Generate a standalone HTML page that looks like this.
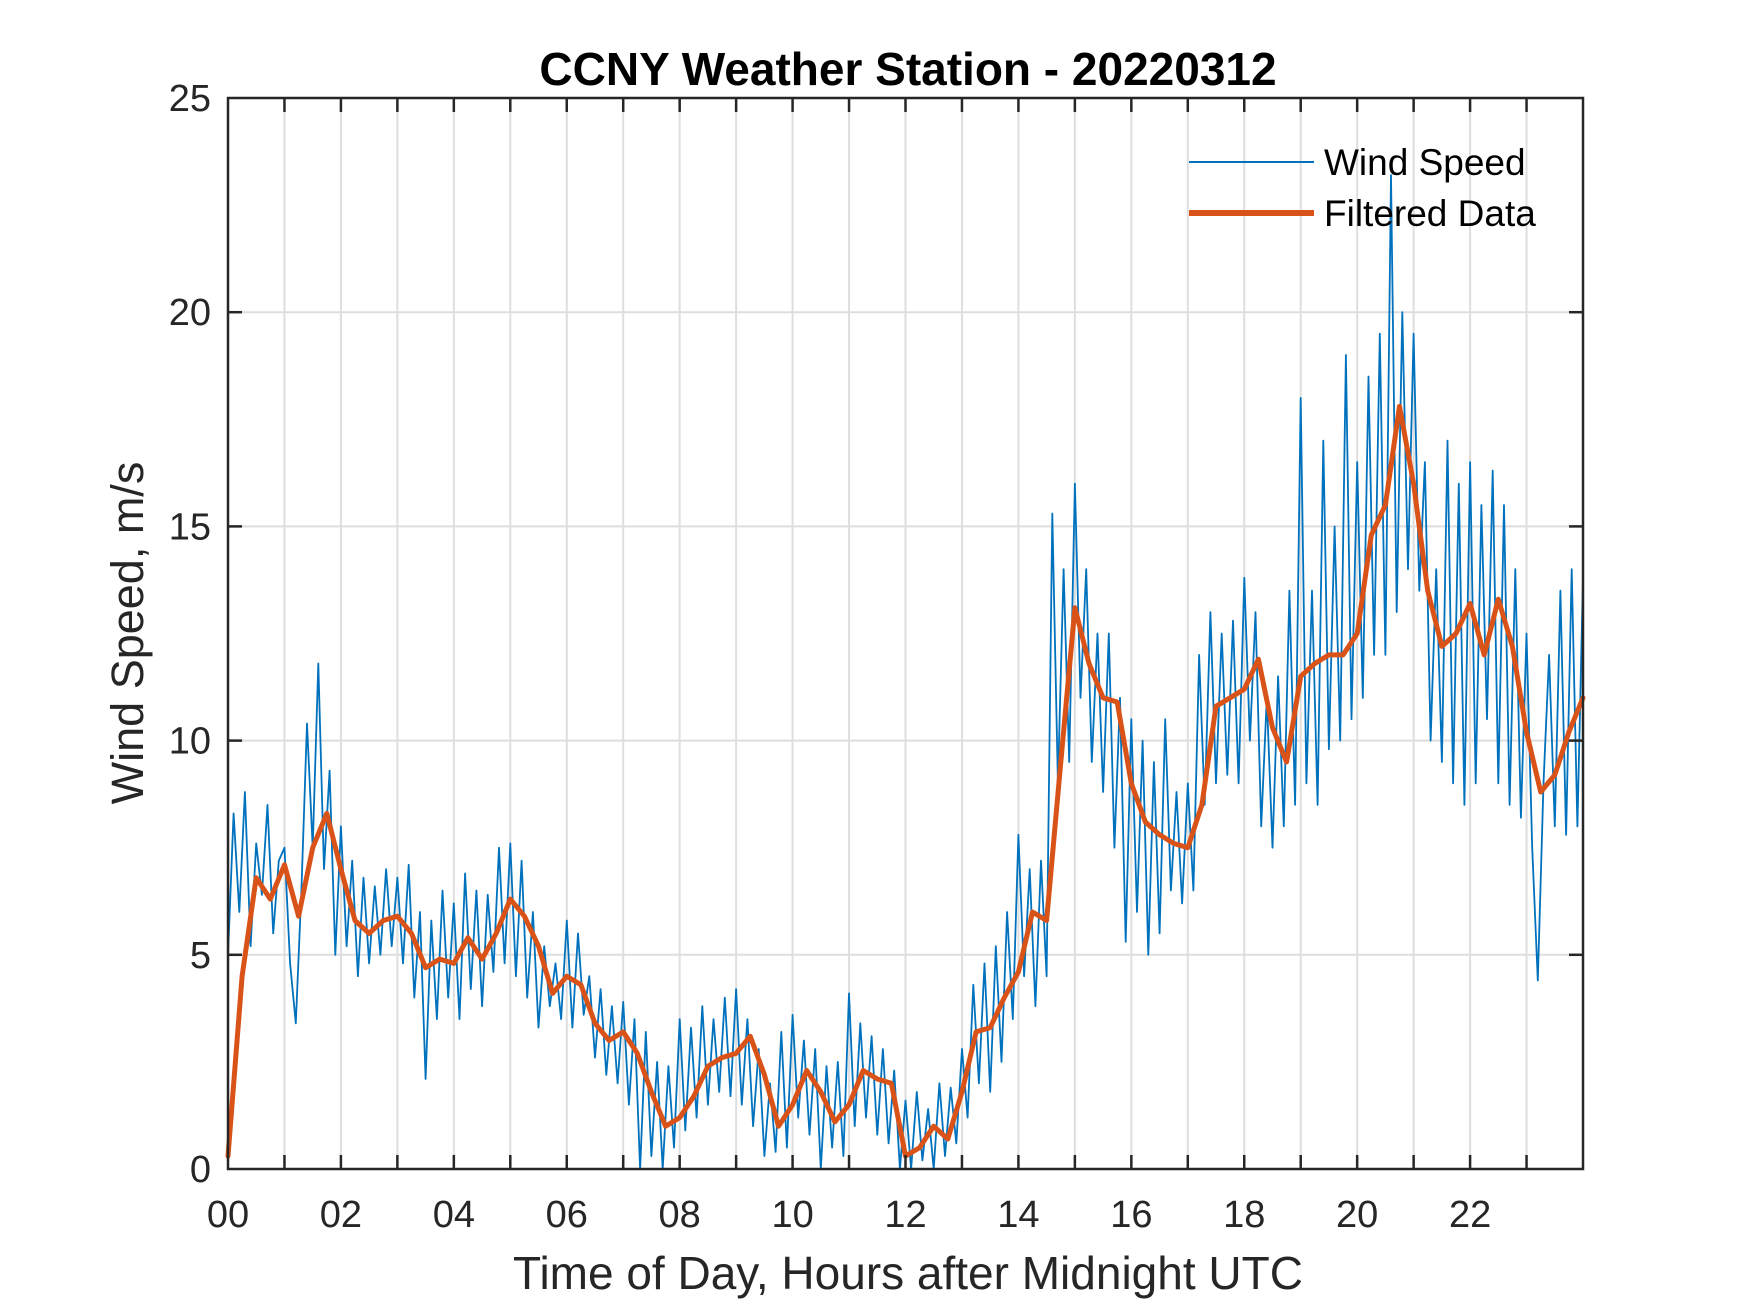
<!DOCTYPE html>
<html><head><meta charset="utf-8"><style>
html,body{margin:0;padding:0;background:#fff;}
svg{display:block;font-family:"Liberation Sans",Arial,sans-serif;}
</style></head><body>
<svg id="chart" width="1750" height="1313" viewBox="0 0 1750 1313">
<g id="grid"></g>
<g id="series"></g>
<g id="axes"></g>
<text x="908" y="85" text-anchor="middle" font-size="46" font-weight="bold" fill="#000">CCNY Weather Station - 20220312</text>
<text x="908" y="1289" text-anchor="middle" font-size="46" fill="#262626">Time of Day, Hours after Midnight UTC</text>
<text transform="translate(143,633) rotate(-90)" text-anchor="middle" font-size="45" fill="#262626">Wind Speed, m/s</text>
<g>
<line x1="1189" y1="162" x2="1314" y2="162" stroke="#0072BD" stroke-width="2"/>
<text x="1324" y="175" font-size="37" fill="#000">Wind Speed</text>
<line x1="1189" y1="213" x2="1314" y2="213" stroke="#D95319" stroke-width="6"/>
<text x="1324" y="226" font-size="37" fill="#000">Filtered Data</text>
</g>
</svg>
<script>
const xTickLabels=["00","02","04","06","08","10","12","14","16","18","20","22"];
const xTickValues=[0,2,4,6,8,10,12,14,16,18,20,22];
const yTickValues=[0,5,10,15,20,25];
const rawStep=0.1;
const rawValues=[
5,8.3,6,8.8,5.2,7.6,6.4,8.5,5.5,7.2,
7.5,4.8,3.4,6.5,10.4,7.5,11.8,7.0,9.3,5.0,
8.0,5.2,7.2,4.5,6.8,4.8,6.6,5.0,7.0,5.2,
6.8,4.8,7.1,4.0,6.0,2.1,5.8,3.5,6.5,4.0,
6.2,3.5,6.9,4.2,6.5,3.8,6.4,4.6,7.5,4.8,
7.6,4.5,7.2,4.0,6.0,3.3,5.2,3.8,4.8,3.5,
5.8,3.3,5.5,3.6,4.5,2.6,4.2,2.2,3.8,2.0,
3.9,1.5,3.5,0.0,3.2,0.3,2.5,0.0,2.4,0.5,
3.5,0.9,3.3,1.2,3.8,1.5,3.5,1.8,4.0,1.7,
4.2,1.5,3.5,1.0,2.8,0.3,2.0,0.4,3.2,0.5,
3.6,1.2,3.0,0.8,2.8,0.0,2.4,0.5,2.5,0.3,
4.1,1.0,3.4,1.2,3.1,0.8,2.8,0.6,2.3,0.0,
1.6,0.0,1.8,0.2,1.4,0.0,2.0,0.3,1.9,0.6,
2.8,1.2,4.3,2.0,4.8,1.8,5.2,2.5,6.0,3.5,
7.8,4.5,7.0,3.8,7.2,4.5,15.3,9.0,14.0,9.5,
16.0,11.0,14.0,9.5,12.5,8.8,12.5,7.5,11.0,5.3,
10.5,6.0,10.0,5.0,9.5,5.5,10.5,6.5,8.8,6.2,
9.0,6.5,12.0,8.5,13.0,9.0,12.5,9.2,12.8,9.0,
13.8,10.0,13.0,8.0,11.0,7.5,11.5,8.0,13.5,8.5,
18.0,9.0,13.5,8.5,17.0,9.8,15.0,10.0,19.0,10.5,
16.5,11.0,18.5,12.0,19.5,12.0,23.2,13.0,20.0,14.0,
19.5,13.5,16.5,10.0,14.0,9.5,17.0,9.0,16.0,8.5,
16.5,9.0,15.5,10.5,16.3,9.0,15.5,8.5,14.0,8.2,
12.5,7.5,4.4,9.0,12.0,8.0,13.5,7.8,14.0,8.0,13.8];
const filteredStep=0.25;
const filteredValues=[
0.3,4.5,6.8,6.3,7.1,5.9,7.5,8.3,7.0,5.8,5.5,5.8,5.9,5.5,4.7,4.9,
4.8,5.4,4.9,5.5,6.3,5.9,5.2,4.1,4.5,4.3,3.4,3.0,3.2,2.7,1.8,1.0,
1.2,1.7,2.4,2.6,2.7,3.1,2.2,1.0,1.5,2.3,1.8,1.1,1.5,2.3,2.1,2.0,
0.3,0.5,1.0,0.7,1.8,3.2,3.3,4.0,4.6,6.0,5.8,9.5,13.1,11.8,11.0,10.9,
9.0,8.1,7.8,7.6,7.5,8.5,10.8,11.0,11.2,11.9,10.3,9.5,11.5,11.8,12.0,12.0,
12.5,14.8,15.5,17.8,16.0,13.5,12.2,12.5,13.2,12.0,13.3,12.2,10.2,8.8,9.2,10.2,11.0];

const L=228,R=1583,T=98,B=1169;
const xs=h=>L+(R-L)*h/24;
const ys=v=>B-(B-T)*v/25;
const NS="http://www.w3.org/2000/svg";
function mk(tag,attrs,parent){const e=document.createElementNS(NS,tag);for(const k in attrs)e.setAttribute(k,attrs[k]);parent.appendChild(e);return e;}
const grid=document.getElementById('grid'),axes=document.getElementById('axes'),series=document.getElementById('series');
for(let h=1;h<24;h++){
 const g=mk('line',{x1:xs(h),x2:xs(h),y1:T,y2:B,stroke:'#dedede','stroke-width':2},grid);
 
 
 const t1=mk('line',{x1:xs(h),x2:xs(h),y1:B,y2:B-14,stroke:'#262626','stroke-width':2.5},axes);
 
 
 const t2=mk('line',{x1:xs(h),x2:xs(h),y1:T,y2:T+14,stroke:'#262626','stroke-width':2.5},axes);
 
 
}
yTickValues.forEach(v=>{
 if(v>0&&v<25){
  const g=mk('line',{x1:L,x2:R,y1:ys(v),y2:ys(v),stroke:'#dedede','stroke-width':2},grid);
  
  
  const a=mk('line',{x1:L,x2:L+14,y1:ys(v),y2:ys(v),stroke:'#262626','stroke-width':2.5},axes);
  
  
  const b=mk('line',{x1:R,x2:R-14,y1:ys(v),y2:ys(v),stroke:'#262626','stroke-width':2.5},axes);
  
  
 }
 const t=mk('text',{x:L-17,y:ys(v)+13,'text-anchor':'end','font-size':38,fill:'#262626'},axes);
 t.textContent=v;
 
 
});
xTickValues.forEach((h,i)=>{
 const t=mk('text',{x:xs(h),y:1227,'text-anchor':'middle','font-size':38,fill:'#262626'},axes);
 t.textContent=xTickLabels[i];
 
 
});
const box=mk('rect',{x:L,y:T,width:R-L,height:B-T,fill:'none',stroke:'#262626','stroke-width':2.5},axes);


const rp=rawValues.map((v,i)=>xs(Math.min(24,i*rawStep)).toFixed(1)+','+ys(v).toFixed(1)).join(' ');
const raw=mk('polyline',{points:rp,fill:'none',stroke:'#0072BD','stroke-width':1.8,'stroke-linejoin':'round'},series);


const fp=filteredValues.map((v,i)=>xs(i*filteredStep).toFixed(1)+','+ys(v).toFixed(1)).join(' ');
const fl=mk('polyline',{points:fp,fill:'none',stroke:'#D95319','stroke-width':5,'stroke-linejoin':'round','stroke-linecap':'round'},series);


</script>
</body></html>
